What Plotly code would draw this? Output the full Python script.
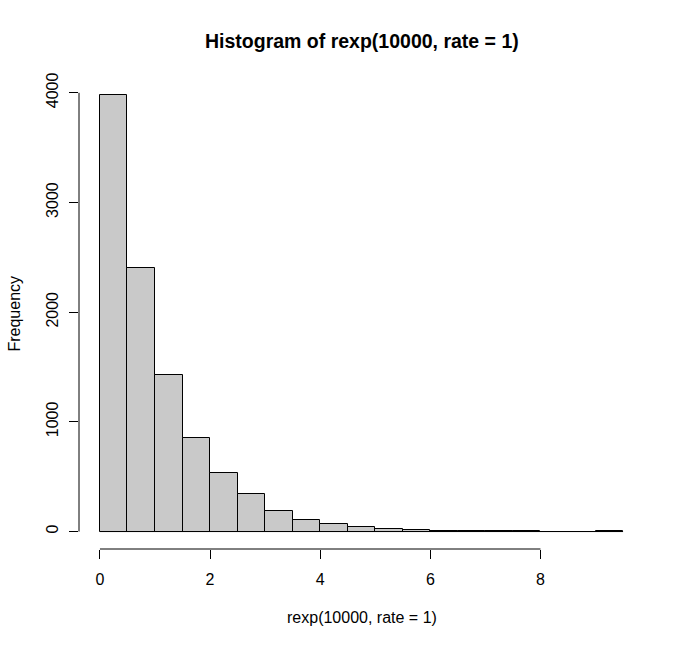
import numpy as np
import plotly.graph_objects as go

# ---- data ----
bin_start = 0.0
bin_width = 0.5
counts = [3976, 2406, 1427, 851, 532, 345, 185, 106, 73, 46, 24, 12, 7, 5, 1, 3, 0, 0, 1]
x_ticks = [0, 2, 4, 6, 8]
y_ticks = [0, 1000, 2000, 3000, 4000]
title_text = "Histogram of rexp(10000, rate = 1)"
x_title = "rexp(10000, rate = 1)"
y_title = "Frequency"

n = len(counts)
centers = bin_start + bin_width * (np.arange(n) + 0.5)
x_max = bin_start + bin_width * n
y_max = max(counts)

# R-style 4% axis extension
xr = [bin_start - 0.04 * (x_max - bin_start), x_max + 0.04 * (x_max - bin_start)]
yr = [-0.04 * y_max, y_max * 1.04]

FONT = "Liberation Sans, Arial, Helvetica, sans-serif"

fig = go.Figure()
fig.add_trace(go.Bar(
    x=centers, y=counts, width=bin_width,
    marker=dict(color="#C9C9C9", line=dict(color="black", width=1)),
    hoverinfo="x+y", showlegend=False,
))

fig.update_layout(
    width=685, height=647,
    margin=dict(l=79, r=41, t=78, b=98, pad=0),
    paper_bgcolor="white", plot_bgcolor="white",
    bargap=0,
    font=dict(family=FONT, size=16, color="black"),
    xaxis=dict(range=xr, tickvals=x_ticks, ticktext=[str(v) for v in x_ticks],
               ticks="outside", ticklen=9, tickwidth=1, tickcolor="black",
               showgrid=False, zeroline=False, showline=False,
               ticklabelstandoff=7, tickfont=dict(size=16)),
    yaxis=dict(range=yr, tickvals=y_ticks, ticktext=[str(v) for v in y_ticks],
               ticks="outside", ticklen=9, tickwidth=1, tickcolor="black",
               showgrid=False, zeroline=False, showline=False, tickangle=-90,
               ticklabelstandoff=5, tickfont=dict(size=16)),
    shapes=[
        # zero-height bins are drawn as a baseline, as R does
        dict(type="line", xref="x", yref="y", x0=bin_start, x1=x_max, y0=0, y1=0,
             line=dict(color="black", width=1), layer="above"),
        dict(type="line", xref="x", yref="paper", x0=x_ticks[0], x1=x_ticks[-1], y0=0, y1=0,
             line=dict(color="black", width=1)),
        dict(type="line", xref="paper", yref="y", x0=0, x1=0, y0=y_ticks[0], y1=y_ticks[-1],
             line=dict(color="black", width=1)),
    ],
    annotations=[
        dict(text="<b>" + title_text + "</b>", xref="paper", yref="paper", x=0.5, y=1.0776,
             xanchor="center", yanchor="middle", showarrow=False, font=dict(size=19.5)),
        dict(text=x_title, xref="paper", yref="paper", x=0.5, y=-0.145,
             xanchor="center", yanchor="middle", showarrow=False, font=dict(size=16)),
        dict(text=y_title, xref="paper", yref="paper", x=-0.115, y=0.5, textangle=-90,
             xanchor="center", yanchor="middle", showarrow=False, font=dict(size=16)),
    ],
)

fig.write_html("out.html")
